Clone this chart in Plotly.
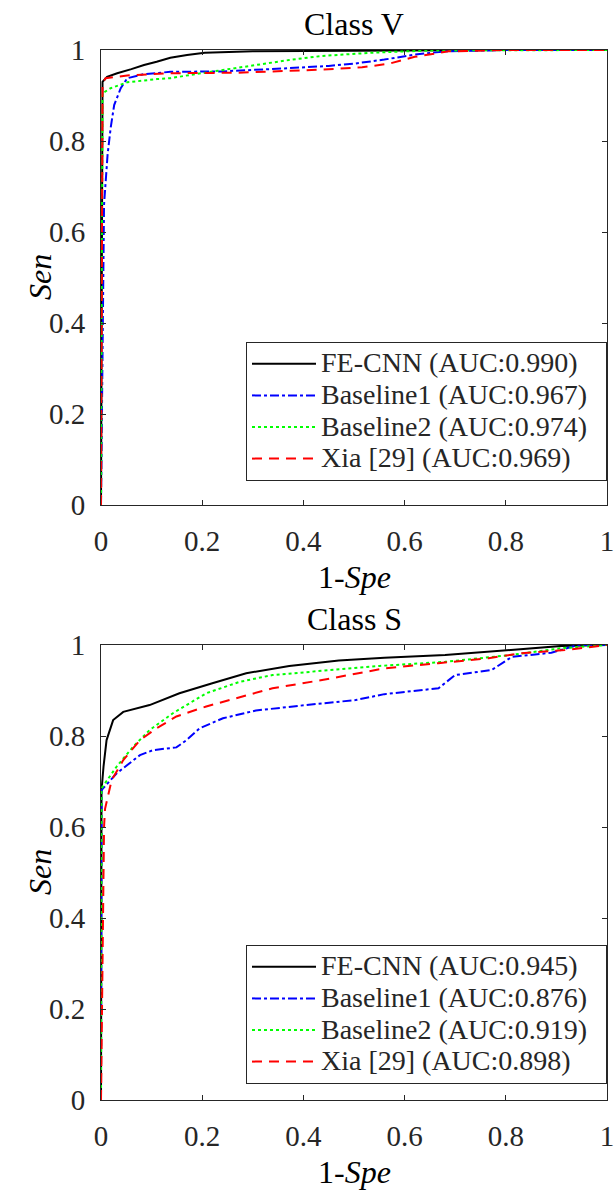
import plotly.graph_objects as go

# ---------------- data ----------------
tick_vals = [0, 0.2, 0.4, 0.6, 0.8, 1.0]
tick_text = ["0", "0.2", "0.4", "0.6", "0.8", "1"]

names_v = ["FE-CNN (AUC:0.990)", "Baseline1 (AUC:0.967)", "Baseline2 (AUC:0.974)", "Xia [29] (AUC:0.969)"]
names_s = ["FE-CNN (AUC:0.945)", "Baseline1 (AUC:0.876)", "Baseline2 (AUC:0.919)", "Xia [29] (AUC:0.898)"]

# Class V
fe_v_x = [0, 0.002, 0.003, 0.012, 0.032, 0.06, 0.085, 0.11, 0.137, 0.17, 0.205, 0.3, 0.4, 0.6, 0.8, 1.0]
fe_v_y = [0, 0.6, 0.93, 0.941, 0.949, 0.958, 0.967, 0.974, 0.983, 0.989, 0.994, 0.997, 0.998, 0.999, 1.0, 1.0]
b1_v_x = [0, 0.004, 0.006, 0.013, 0.019, 0.026, 0.039, 0.052, 0.085, 0.137, 0.24, 0.37, 0.45, 0.50, 0.56, 0.62, 0.68, 0.8, 1.0]
b1_v_y = [0, 0.5, 0.66, 0.77, 0.828, 0.879, 0.916, 0.938, 0.947, 0.952, 0.953, 0.96, 0.965, 0.97, 0.979, 0.99, 0.997, 1.0, 1.0]
b2_v_x = [0, 0.002, 0.003, 0.019, 0.052, 0.11, 0.137, 0.175, 0.24, 0.306, 0.372, 0.437, 0.535, 0.65, 0.8, 1.0]
b2_v_y = [0, 0.6, 0.905, 0.916, 0.929, 0.936, 0.938, 0.945, 0.956, 0.967, 0.978, 0.987, 0.994, 0.999, 1.0, 1.0]
xia_v_x = [0, 0.002, 0.003, 0.009, 0.052, 0.137, 0.27, 0.44, 0.516, 0.57, 0.62, 0.687, 0.8, 1.0]
xia_v_y = [0, 0.6, 0.927, 0.938, 0.944, 0.949, 0.95, 0.957, 0.962, 0.97, 0.985, 0.997, 1.0, 1.0]

# Class S
fe_s_x = [0, 0.001, 0.005, 0.011, 0.024, 0.044, 0.096, 0.155, 0.22, 0.287, 0.372, 0.47, 0.56, 0.68, 0.81, 0.91, 1.0]
fe_s_y = [0, 0.68, 0.733, 0.791, 0.835, 0.853, 0.868, 0.894, 0.916, 0.938, 0.954, 0.966, 0.972, 0.978, 0.989, 0.998, 1.0]
b1_s_x = [0, 0.001, 0.031, 0.057, 0.077, 0.103, 0.149, 0.169, 0.195, 0.241, 0.306, 0.405, 0.503, 0.56, 0.667, 0.70, 0.772, 0.812, 0.89, 0.943, 1.0]
b1_s_y = [0, 0.681, 0.718, 0.74, 0.758, 0.769, 0.775, 0.791, 0.817, 0.839, 0.856, 0.868, 0.879, 0.892, 0.905, 0.934, 0.945, 0.974, 0.983, 1.0, 1.0]
b2_s_x = [0, 0.001, 0.031, 0.064, 0.096, 0.142, 0.208, 0.274, 0.339, 0.437, 0.55, 0.68, 0.81, 0.91, 1.0]
b2_s_y = [0, 0.685, 0.733, 0.777, 0.813, 0.85, 0.894, 0.919, 0.934, 0.944, 0.954, 0.963, 0.978, 0.993, 1.0]
xia_s_x = [0, 0.006, 0.008, 0.021, 0.044, 0.077, 0.11, 0.149, 0.208, 0.274, 0.339, 0.437, 0.562, 0.667, 0.766, 0.831, 0.917, 1.0]
xia_s_y = [0, 0.6, 0.64, 0.703, 0.747, 0.791, 0.817, 0.843, 0.865, 0.886, 0.905, 0.923, 0.949, 0.96, 0.971, 0.982, 0.989, 1.0]

# ---------------- styles ----------------
FONT = "Liberation Serif"
AX = "#262626"
styles = [
    dict(color="black", dash="solid", width=2),
    dict(color="#0000ff", dash="dashdot", width=2),
    dict(color="#00ff00", dash="dot", width=2),
    dict(color="#ff0000", dash="10px,7px", width=2),
]

def big(s):
    return '<span style="font-size:28px">' + s + '\u00a0\u00a0</span>'

fig = go.Figure()
series_v = [(fe_v_x, fe_v_y), (b1_v_x, b1_v_y), (b2_v_x, b2_v_y), (xia_v_x, xia_v_y)]
series_s = [(fe_s_x, fe_s_y), (b1_s_x, b1_s_y), (b2_s_x, b2_s_y), (xia_s_x, xia_s_y)]

for (x, y), nm, st in zip(series_v, names_v, styles):
    fig.add_trace(go.Scatter(x=x, y=y, mode="lines", name=big(nm), line=st,
                             xaxis="x", yaxis="y", legend="legend"))
for (x, y), nm, st in zip(series_s, names_s, styles):
    fig.add_trace(go.Scatter(x=x, y=y, mode="lines", name=big(nm), line=st,
                             xaxis="x2", yaxis="y2", legend="legend2"))

H = 1190.0
L, R = 101, 7
PW = 614 - L - R
def py(p):
    return (H - p) / H

axis_common = dict(range=[0, 1], tickvals=tick_vals, ticktext=tick_text,
                   ticks="inside", ticklen=5, tickcolor=AX, tickwidth=1,
                   showline=True, linecolor=AX, linewidth=1, mirror="ticks",
                   showgrid=False, zeroline=False, automargin=False,
                   ticklabeloverflow="allow",
                   tickfont=dict(family=FONT, size=29, color=AX))

legend_common = dict(x=1, xanchor="right", yanchor="top",
                     bgcolor="white", bordercolor=AX, borderwidth=1,
                     font=dict(family=FONT, size=22, color=AX), itemwidth=64,
                     tracegroupgap=0)

fig.update_layout(
    template="none",
    width=614, height=1190,
    margin=dict(l=L, r=R, t=0, b=0, autoexpand=False),
    paper_bgcolor="white", plot_bgcolor="white",
    xaxis=dict(domain=[0, 1], anchor="y", ticklabelstandoff=10, **axis_common),
    yaxis=dict(domain=[py(505), py(50)], anchor="x", ticklabelstandoff=9, **axis_common),
    xaxis2=dict(domain=[0, 1], anchor="y2", ticklabelstandoff=10, **axis_common),
    yaxis2=dict(domain=[py(1100), py(645)], anchor="x2", ticklabelstandoff=9, **axis_common),
    legend=dict(y=py(342), **legend_common),
    legend2=dict(y=py(945), **legend_common),
    showlegend=True,
)

ann_font = dict(family=FONT, size=32, color="black")
yx = (40 - L) / float(PW)
annotations = [
    dict(text="Class V", x=0.5, y=py(24), xref="paper", yref="paper",
         xanchor="center", yanchor="middle", showarrow=False, font=ann_font),
    dict(text="Class S", x=0.5, y=py(619), xref="paper", yref="paper",
         xanchor="center", yanchor="middle", showarrow=False, font=ann_font),
    dict(text="1-<i>Spe</i>", x=0.5, y=py(577), xref="paper", yref="paper",
         xanchor="center", yanchor="middle", showarrow=False, font=ann_font),
    dict(text="1-<i>Spe</i>", x=0.5, y=py(1172), xref="paper", yref="paper",
         xanchor="center", yanchor="middle", showarrow=False, font=ann_font),
    dict(text="<i>Sen</i>", x=yx, y=py(277), xref="paper", yref="paper",
         xanchor="center", yanchor="middle", showarrow=False, textangle=-90, font=ann_font),
    dict(text="<i>Sen</i>", x=yx, y=py(872), xref="paper", yref="paper",
         xanchor="center", yanchor="middle", showarrow=False, textangle=-90, font=ann_font),
]
fig.update_layout(annotations=annotations)

fig.write_html("out.html", config={"displayModeBar": False},
               post_script="document.body.style.margin='0';document.body.style.overflow='hidden';")
